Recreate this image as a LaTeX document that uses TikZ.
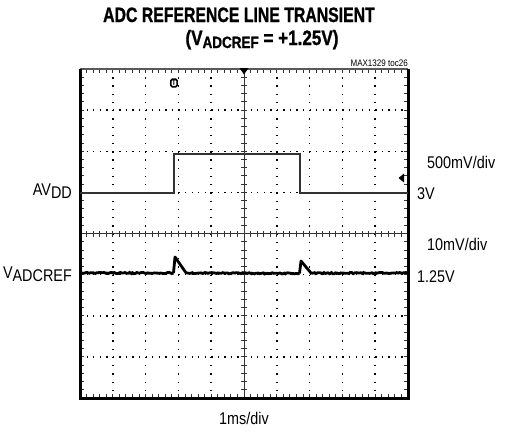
\documentclass[tikz,border=0pt]{standalone}
\usepackage{fontspec}
\setmainfont{Liberation Sans}[FakeStretch=0.85]
\newfontfamily\headfont{Liberation Sans Bold}[FakeStretch=0.76, FakeBold=1]
\newfontfamily\subheadfont{Liberation Sans Bold}[FakeStretch=0.82, FakeBold=1]
\usepackage{tikz}
\usetikzlibrary{arrows}
\usetikzlibrary{decorations.pathmorphing}

\tikzset{
  scopelabel/.style={font=\fontsize{17}{17}\selectfont, inner sep=0pt},
  gridline/.style={black, line width=1.5bp, dash pattern=on 1.3bp off 5.26bp},
  trace/.style={black!80, line width=1.5bp},
  reftrace/.style={black, line width=2.8bp, decorate,
    decoration={random steps, segment length=1.5bp, amplitude=0.6bp}}
}

\begin{document}
\begin{tikzpicture}[x=1bp, y=-1bp]
\pgfmathsetseed{7}
% Fix the page size
\useasboundingbox (0,0) rectangle (513,432);

% Define the screen corners
\coordinate (TL) at (80,69);
\coordinate (BR) at (408,398);
\def\dx{32.8}
\def\dy{41.125}

% Draw the dotted grid
\foreach \i in {1,2,3,5,6,7}
  \draw[gridline] (80,69+\i*\dy) -- (408,69+\i*\dy);
\foreach \j in {1,2,3,4,6,7,8,9}
  \draw[gridline, dash pattern=on 1.3bp off 6.925bp] (80+\j*\dx,69) -- (80+\j*\dx,398);

% Draw the centre axes with their ticks
\draw[black!80, line width=0.8bp] (80,233.5) -- (408,233.5);
\draw[black!80, line width=0.8bp] (244,69) -- (244,398);
\foreach \k in {1,...,49}
  \draw[black!80, line width=0.9bp] (80+\k*\dx/5,230.5) -- (80+\k*\dx/5,236.5);
\foreach \k in {1,...,39}
  \draw[black!80, line width=0.9bp] (241,69+\k*\dy/5) -- (247,69+\k*\dy/5);

% Draw the border ticks
\foreach \k in {1,...,49} {
  \draw[black!80, line width=0.9bp] (80+\k*\dx/5,69) -- (80+\k*\dx/5,73);
  \draw[black!80, line width=0.9bp] (80+\k*\dx/5,398) -- (80+\k*\dx/5,394);
}
\foreach \k in {1,...,39} {
  \draw[black!80, line width=0.9bp] (80,69+\k*\dy/5) -- (84,69+\k*\dy/5);
  \draw[black!80, line width=0.9bp] (408,69+\k*\dy/5) -- (404,69+\k*\dy/5);
}

% Draw the screen frame
\draw[black!65, line width=2bp] (80,69) -- (408,69);
\draw[black, line width=3bp] (408,69) -- (BR) -- (80,398) -- (80,69);

% Draw the markers
\fill[black] (239.5,68) -- (248.5,68) -- (244,74.5) -- cycle;
\fill[black] (404,173.5) -- (404,182.5) -- (398.5,178) -- cycle;
\node[draw, line width=1.6bp, rounded corners=1.5bp, inner xsep=1bp, inner ysep=1.2bp,
  font=\bfseries\fontsize{8}{8}\selectfont] (trig) at (174,83) {T};

% Draw the AVDD trace
\draw[trace] (80,193) -- (174,193) -- (174,154) -- (300,154) -- (300,193) -- (408,193);

% Draw the reference trace
\draw[reftrace] (80,273) -- (173.5,273);
\draw[black, line width=2.8bp, line join=round]
  (173.5,273) -- (175,257) -- (186,272.8) -- (188,273);
\draw[reftrace] (188,273) -- (299.5,273.5);
\draw[black, line width=2.8bp, line join=round]
  (299.5,273.5) -- (301,261) -- (311,273) -- (313,273.2);
\draw[reftrace] (313,273.2) -- (408,273);

% Draw the title
\node[font=\headfont\fontsize{20.9}{21}\selectfont, anchor=base, inner sep=0pt]
  (title) at (239,22) {ADC REFERENCE LINE TRANSIENT};
\node[font=\subheadfont\fontsize{20.9}{21}\selectfont, anchor=base, inner sep=0pt]
  (subtitle) at (262,45)
  {(V\raisebox{-3bp}{\fontsize{16.5}{17}\selectfont ADCREF} = +1.25V)};
\node[font=\fontsize{9.5}{10}\selectfont, anchor=base east, inner sep=0pt]
  (tag) at (408,66) {MAX1329 toc26};

% Draw the channel labels
\node[scopelabel, anchor=base east] (avdd) at (72,195)
  {AV\raisebox{-3bp}{DD}};
\node[scopelabel, anchor=base east] (vref) at (72,278)
  {V\raisebox{-3bp}{ADCREF}};
\node[scopelabel, anchor=base west] (scaleA) at (427,168) {500mV/div};
\node[scopelabel, anchor=base west] (levelA) at (417,199) {3V};
\node[scopelabel, anchor=base west] (scaleB) at (427,250) {10mV/div};
\node[scopelabel, anchor=base west] (levelB) at (417,282) {1.25V};
\node[scopelabel, anchor=base] (timebase) at (244,424) {1ms/div};

\end{tikzpicture}
\end{document}
